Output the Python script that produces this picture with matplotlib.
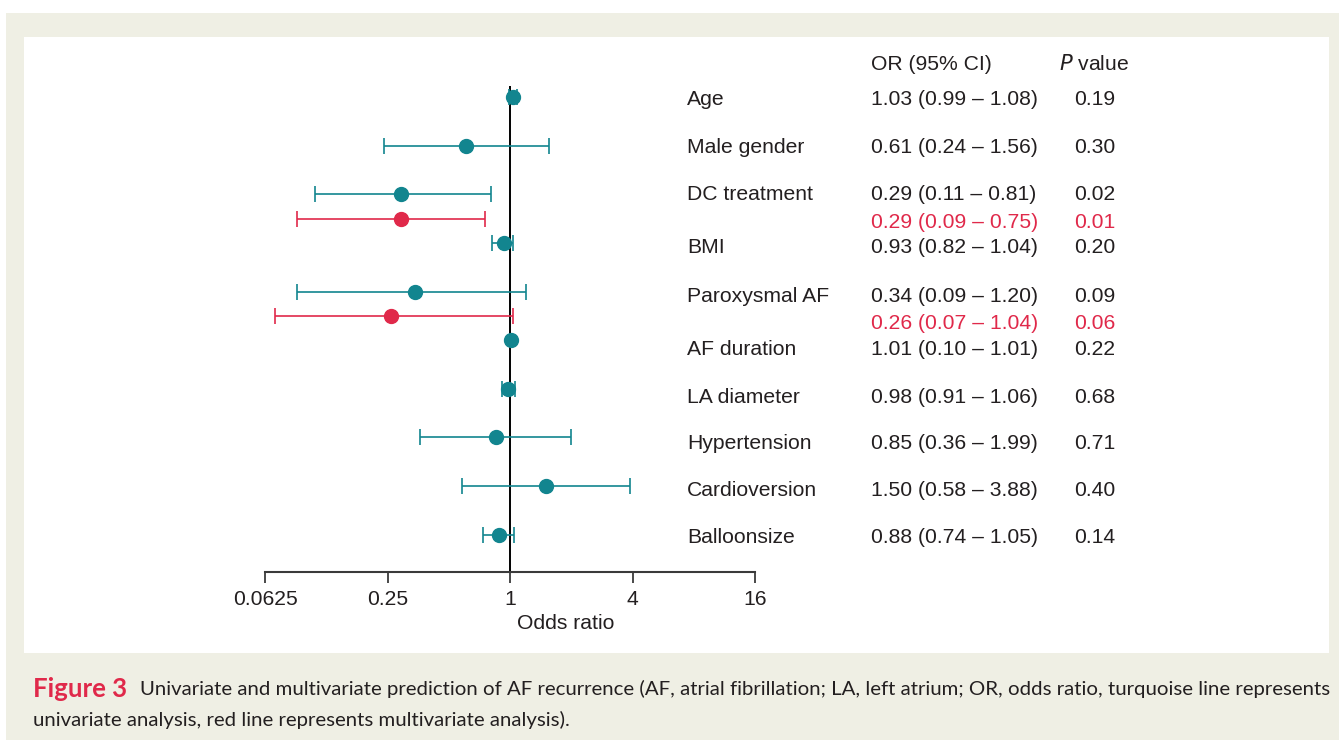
import matplotlib
matplotlib.use('Agg')
import matplotlib.pyplot as plt
import matplotlib.transforms as mtransforms
from matplotlib.patches import Rectangle
from matplotlib.ticker import NullLocator, FixedLocator, FixedFormatter

# ---------------- data ----------------
labels = ["Age", "Male gender", "DC treatment", "BMI", "Paroxysmal AF",
          "AF duration", "LA diameter", "Hypertension", "Cardioversion", "Balloonsize"]
uni_or = [1.03, 0.61, 0.29, 0.93, 0.34, 1.01, 0.98, 0.85, 1.50, 0.88]
uni_lo = [0.99, 0.24, 0.11, 0.82, 0.09, None, 0.91, 0.36, 0.58, 0.74]
uni_hi = [1.08, 1.56, 0.81, 1.04, 1.20, None, 1.06, 1.99, 3.88, 1.05]
uni_text = ["1.03 (0.99 – 1.08)", "0.61 (0.24 – 1.56)", "0.29 (0.11 – 0.81)",
            "0.93 (0.82 – 1.04)", "0.34 (0.09 – 1.20)", "1.01 (0.10 – 1.01)",
            "0.98 (0.91 – 1.06)", "0.85 (0.36 – 1.99)", "1.50 (0.58 – 3.88)",
            "0.88 (0.74 – 1.05)"]
uni_p = ["0.19", "0.30", "0.02", "0.20", "0.09", "0.22", "0.68", "0.71", "0.40", "0.14"]

multi_or = [0.29, 0.26]
multi_lo = [0.09, 0.07]
multi_hi = [0.75, 1.04]
multi_text = ["0.29 (0.09 – 0.75)", "0.26 (0.07 – 1.04)"]
multi_p = ["0.01", "0.06"]

xticks = [0.0625, 0.25, 1, 4, 16]
xtick_labels = ["0.0625", "0.25", "1", "4", "16"]

# ---------------- layout ----------------
uni_y = [0, 1, 2, 3, 4, 5, 6, 7, 8, 9]
multi_y = [2.5, 4.5]
label_text_y = [0.04, 1.03, 2.0, 3.09, 4.1, 5.19, 6.17, 7.13, 8.1, 9.05]
multi_text_y = [2.57, 4.65]

TEAL = "#12858f"
RED = "#e0294a"
DARK = "#231f20"
BEIGE = "#efefe4"
W, H = 1339, 742

plt.rcParams['font.family'] = ['Liberation Sans', 'DejaVu Sans']

fig = plt.figure(figsize=(W / 100, H / 100), dpi=100, facecolor='white')
fig.patches.append(Rectangle((6 / W, 1 - 740 / H), (1339 - 6) / W, (740 - 13) / H,
                             transform=fig.transFigure, facecolor=BEIGE, edgecolor='none', zorder=-3))
fig.patches.append(Rectangle((24 / W, 1 - 653 / H), (1329 - 24) / W, (653 - 37) / H,
                             transform=fig.transFigure, facecolor='white', edgecolor='none', zorder=-2))

ax = fig.add_axes([265 / W, 1 - 572 / H, 490 / W, (572 - 86) / H])
ax.set_zorder(2)
ax.patch.set_alpha(0)
ax.set_xscale('log', base=2)
ax.set_xlim(0.0625, 16)
ax.set_ylim(9.77, -0.23)

for s in ['top', 'right', 'left']:
    ax.spines[s].set_visible(False)
ax.spines['bottom'].set_color('#3a3a3a')
ax.spines['bottom'].set_linewidth(1.5)
ax.xaxis.set_major_locator(FixedLocator(xticks))
ax.xaxis.set_major_formatter(FixedFormatter(xtick_labels))
ax.xaxis.set_minor_locator(NullLocator())
ax.tick_params(axis='x', length=8, width=1.3, color='#3a3a3a', labelsize=15.2,
               labelcolor=DARK, pad=5)
ax.set_yticks([])
ax.set_xlabel("Odds ratio", fontsize=15.2, color=DARK)
ax.xaxis.set_label_coords((566 - 265) / 490, -0.086)

ax.axvline(1, color='black', lw=1.4, zorder=1)

for o, lo, hi, y in zip(uni_or, uni_lo, uni_hi, uni_y):
    if lo is not None:
        ax.errorbar([o], [y], xerr=[[o - lo], [hi - o]], fmt='none', ecolor=TEAL,
                    elinewidth=1.2, capsize=5.5, capthick=1.2, zorder=2)
    ax.plot([o], [y], 'o', color=TEAL, markersize=10, zorder=3)

for o, lo, hi, y in zip(multi_or, multi_lo, multi_hi, multi_y):
    ax.errorbar([o], [y], xerr=[[o - lo], [hi - o]], fmt='none', ecolor=RED,
                elinewidth=1.2, capsize=5.5, capthick=1.2, zorder=2)
    ax.plot([o], [y], 'o', color=RED, markersize=10, zorder=3)

tr = mtransforms.blended_transform_factory(fig.transFigure, ax.transData)
FS = 15.2
ax.text(871 / W, -0.68, "OR (95% CI)", transform=tr, fontsize=FS, color=DARK,
        va='center', clip_on=False)
ax.text(1059 / W, -0.68, "$\\it{P}$ value", transform=tr, fontsize=FS, color=DARK,
        va='center', clip_on=False)

for lab, t, p, y in zip(labels, uni_text, uni_p, label_text_y):
    ax.text(687 / W, y, lab, transform=tr, fontsize=FS, color=DARK, va='center', clip_on=False)
    ax.text(871 / W, y, t, transform=tr, fontsize=FS, color=DARK, va='center', clip_on=False)
    ax.text(1074 / W, y, p, transform=tr, fontsize=FS, color=DARK, va='center', clip_on=False)

for t, p, y in zip(multi_text, multi_p, multi_text_y):
    ax.text(871 / W, y, t, transform=tr, fontsize=FS, color=RED, va='center', clip_on=False)
    ax.text(1074 / W, y, p, transform=tr, fontsize=FS, color=RED, va='center', clip_on=False)

# caption
cap_font = ['Lato', 'DejaVu Sans']
fig.text(33 / W, 1 - 689 / H, "Figure 3", fontsize=18.5, fontweight='bold', color=RED,
         family=cap_font, va='center')
fig.text(140 / W, 1 - 689 / H,
         "Univariate and multivariate prediction of AF recurrence (AF, atrial fibrillation; "
         "LA, left atrium; OR, odds ratio, turquoise line represents",
         fontsize=14.65, color=DARK, family=cap_font, va='center')
fig.text(33 / W, 1 - 720 / H,
         "univariate analysis, red line represents multivariate analysis).",
         fontsize=14.65, color=DARK, family=cap_font, va='center')

fig.savefig("out.png", dpi=100, facecolor=fig.get_facecolor())
